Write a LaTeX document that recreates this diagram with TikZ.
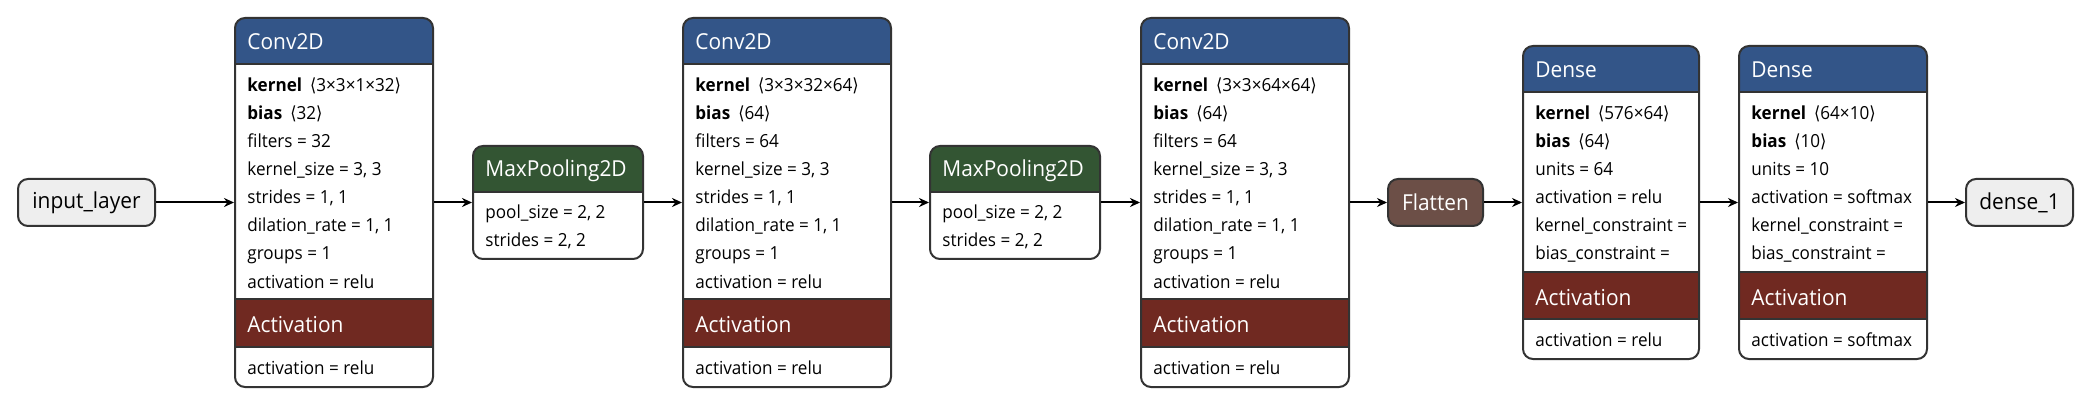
\documentclass[tikz,border=0pt]{standalone}
\usepackage{fontspec}
\setmainfont{Open Sans}[FakeStretch=0.95]
\newfontfamily\brfont{DejaVu Sans}[FakeStretch=0.9]
\usetikzlibrary{arrows.meta,fit}
\definecolor{layerblue}{RGB}{51,85,136}
\definecolor{actred}{RGB}{112,41,33}
\definecolor{poolgreen}{RGB}{51,85,51}
\definecolor{shapebrown}{RGB}{108,79,71}
\definecolor{edgegray}{RGB}{51,51,51}
\definecolor{iogray}{RGB}{238,238,238}
\begin{document}
\begin{tikzpicture}[x=0.5pt,y=-0.5pt,
	box/.style={draw=edgegray,line width=1pt,rounded corners=5pt,inner sep=0pt},
	title/.style={anchor=base west,inner sep=0pt,text=white,font=\fontsize{11}{13}\selectfont},
	attr/.style={anchor=base west,inner sep=0pt,font=\fontsize{9}{11}\selectfont},
	sep/.style={draw=edgegray,line width=0.8pt},
	link/.style={-{Stealth[length=5pt,width=4.5pt]},line width=1pt}]
	\useasboundingbox (0,0) rectangle (2092,406);

	%input and output
	\node[box,fill=iogray,minimum width=68.5pt,minimum height=23.5pt,font=\fontsize{11}{13}\selectfont] (input) at (86.5,202.5) {input\_layer};
	\node[box,fill=iogray,minimum width=53.5pt,minimum height=23.5pt,font=\fontsize{11}{13}\selectfont] (output) at (2019.5,202.5) {dense\_1};

	%Conv2D blocks
	\foreach \n/\l/\r/\k/\b/\f in {conv1/235/433/3×3×1×32/32/32,conv2/683/891/3×3×32×64/64/64,conv3/1141/1349/3×3×64×64/64/64}{
		\fill[layerblue] (\l,64) [rounded corners=5pt] -- (\l,18) -- (\r,18) [sharp corners] -- (\r,64) -- cycle;
		\fill[actred] (\l,299) rectangle (\r,347);
		\draw[sep] (\l,64) -- (\r,64) (\l,299) -- (\r,299) (\l,347) -- (\r,347);
		\node[box,fit={(\l,18) (\r,387)}] (\n) {};
		\node[title] (\n-t) at (\l+12,50) {Conv2D};
		\node[attr] (\n-1) at (\l+12,92) {\textbf{kernel}\hspace{4pt}{\brfont⟨}\k{\brfont⟩}};
		\node[attr] (\n-2) at (\l+12,120) {\textbf{bias}\hspace{4pt}{\brfont⟨}\b{\brfont⟩}};
		\node[attr] (\n-3) at (\l+12,148) {filters = \f};
		\node[attr] (\n-4) at (\l+12,176) {kernel\_size = 3, 3};
		\node[attr] (\n-5) at (\l+12,204) {strides = 1, 1};
		\node[attr] (\n-6) at (\l+12,232) {dilation\_rate = 1, 1};
		\node[attr] (\n-7) at (\l+12,260) {groups = 1};
		\node[attr] (\n-8) at (\l+12,288) {activation = relu};
		\node[title] (\n-at) at (\l+12,332) {Activation};
		\node[attr] (\n-a) at (\l+12,374) {activation = relu};
	}

	%MaxPooling2D blocks
	\foreach \n/\l/\r in {pool1/473/643,pool2/930/1100}{
		\fill[poolgreen] (\l,192) [rounded corners=5pt] -- (\l,146) -- (\r,146) [sharp corners] -- (\r,192) -- cycle;
		\draw[sep] (\l,192) -- (\r,192);
		\node[box,fit={(\l,146) (\r,259)}] (\n) {};
		\node[title] (\n-t) at (\l+12,177) {MaxPooling2D};
		\node[attr] (\n-1) at (\l+12,219) {pool\_size = 2, 2};
		\node[attr] (\n-2) at (\l+12,247) {strides = 2, 2};
	}

	%Flatten
	\node[box,fill=shapebrown,text=white,minimum width=47.5pt,minimum height=23.5pt,font=\fontsize{11}{13}\selectfont] (flatten) at (1435.5,202.5) {Flatten};

	%Dense blocks
	\foreach \n/\l/\r/\k/\b/\a in {dense1/1523/1699/576×64/64/relu,dense2/1739/1927/64×10/10/softmax}{
		\fill[layerblue] (\l,92) [rounded corners=5pt] -- (\l,46) -- (\r,46) [sharp corners] -- (\r,92) -- cycle;
		\fill[actred] (\l,272) rectangle (\r,319);
		\draw[sep] (\l,92) -- (\r,92) (\l,272) -- (\r,272) (\l,319) -- (\r,319);
		\node[box,fit={(\l,46) (\r,359)}] (\n) {};
		\node[title] (\n-t) at (\l+12,78) {Dense};
		\node[attr] (\n-1) at (\l+12,120) {\textbf{kernel}\hspace{4pt}{\brfont⟨}\k{\brfont⟩}};
		\node[attr] (\n-2) at (\l+12,148) {\textbf{bias}\hspace{4pt}{\brfont⟨}\b{\brfont⟩}};
		\node[attr] (\n-3) at (\l+12,176) {units = \b};
		\node[attr] (\n-4) at (\l+12,204) {activation = \a};
		\node[attr] (\n-5) at (\l+12,232) {kernel\_constraint =};
		\node[attr] (\n-6) at (\l+12,260) {bias\_constraint =};
		\node[title] (\n-at) at (\l+12,305) {Activation};
		\node[attr] (\n-a) at (\l+12,346) {activation = \a};
	}

	%connections
	\foreach \a/\b in {input/conv1,conv1/pool1,pool1/conv2,conv2/pool2,pool2/conv3,conv3/flatten,flatten/dense1,dense1/dense2,dense2/output}
		\draw[link] (\a) -- (\b);

\end{tikzpicture}
\end{document}
